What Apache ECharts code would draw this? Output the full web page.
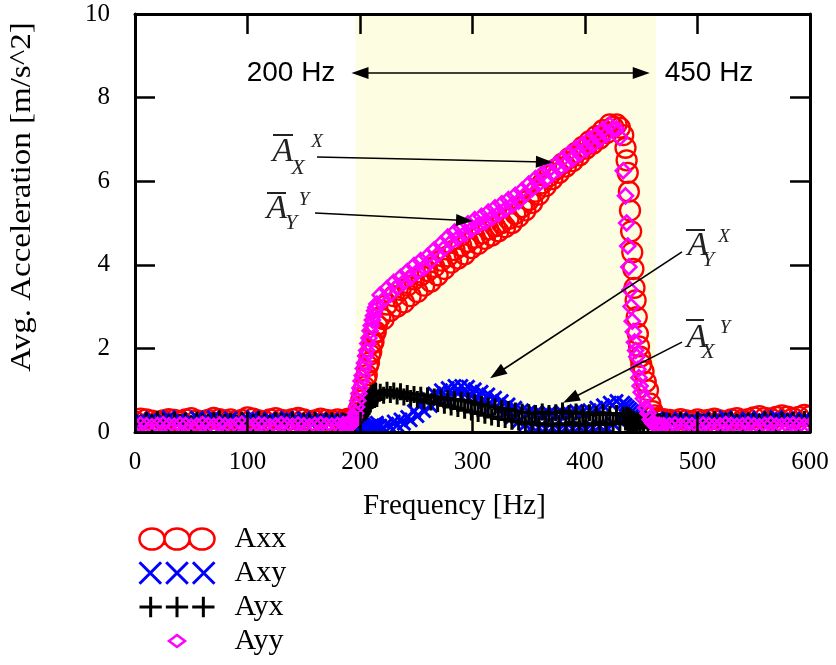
<!DOCTYPE html>
<html>
<head>
<meta charset="utf-8">
<script src="https://cdn.jsdelivr.net/npm/echarts@6/dist/echarts.min.js"></script>
<style>
html,body{margin:0;padding:0;background:#fff}
#chart{width:836px;height:665px}
</style>
</head>
<body>
<div id="chart"></div>
<script>
// Frequency grid [Hz] shared by the four averaged acceleration curves
const freq = [
  // 0-185 Hz
  0,5,10,15,20,25,30,35,40,45,50,55,60,65,70,75,80,85,90,95,
  100,105,110,115,120,125,130,135,140,145,150,155,160,165,170,175,180,185,
  // 188-215 Hz
  188,189,190,191,192,193,194,195,196,197,
  198,199,200,201,202,203,204,205,206,207,
  208,209,210,211,212,213,214,215,
  // 218-434 Hz
  218,221,224,227,230,233,236,239,242,245,
  248,251,254,257,260,263,266,269,272,275,
  278,281,284,287,290,293,296,299,302,305,
  308,311,314,317,320,323,326,329,332,335,
  338,341,344,347,350,353,356,359,362,365,
  368,371,374,377,380,383,386,389,392,395,
  398,401,404,407,410,413,416,419,422,425,
  428,431,434,
  // 436-450 Hz
  436,437,438,439,440,441,442,443,444,445,446,447,448,449,450,
  // 452-470 Hz
  452,454,456,458,460,462,464,466,468,470,
  // 475-600 Hz
  475,480,485,490,495,500,505,510,515,520,525,530,535,540,545,550,555,560,565,570,575,580,585,590,595,600
];

// Axx [m/s^2]
const axx = [
  0.25,0.32,0.30,0.27,0.24,0.28,0.31,0.29,0.26,0.30,
  0.33,0.28,0.25,0.29,0.34,0.31,0.27,0.30,0.26,0.29,
  0.35,0.32,0.28,0.26,0.30,0.33,0.29,0.27,0.31,0.34,
  0.30,0.26,0.28,0.32,0.29,0.27,0.30,0.28,
  0.30,0.28,0.32,0.29,0.31,0.30,0.33,0.32,0.34,0.38,
  0.45,0.55,0.60,0.75,0.82,1.00,1.08,1.28,1.36,1.58,
  1.66,1.85,1.92,2.12,2.16,2.36,2.40,2.56,
  2.75,2.70,3.05,2.90,3.25,3.00,3.40,3.10,3.50,3.25,
  3.65,3.35,3.75,3.50,3.85,3.60,3.95,3.75,4.10,3.90,
  4.20,4.05,4.35,4.15,4.45,4.25,4.55,4.40,4.65,4.50,
  4.75,4.62,4.85,4.70,4.92,4.80,5.00,4.90,5.10,5.00,
  5.22,5.15,5.38,5.30,5.55,5.48,5.75,5.68,5.95,5.88,
  6.12,6.05,6.28,6.20,6.42,6.35,6.55,6.48,6.68,6.62,
  6.82,6.78,6.95,6.90,7.08,7.02,7.22,7.15,7.36,7.30,
  7.36,7.28,7.10,
  6.80,6.50,6.20,5.75,5.30,4.80,4.30,3.90,3.45,3.15,2.75,2.35,2.05,1.80,1.62,
  1.45,1.20,1.00,0.68,0.50,0.40,0.33,0.30,0.28,0.31,
  0.29,0.27,0.31,0.28,0.26,0.30,0.27,0.29,0.32,0.28,0.26,0.30,0.33,
  0.29,0.31,0.35,0.38,0.34,0.32,0.36,0.40,0.37,0.33,0.36,0.41,0.38
];

// Axy [m/s^2]
const axy = [
  0.22,0.30,0.26,0.33,0.24,0.29,0.35,0.27,0.31,0.23,
  0.28,0.34,0.26,0.30,0.36,0.25,0.29,0.33,0.27,0.24,
  0.31,0.35,0.28,0.25,0.32,0.27,0.30,0.34,0.26,0.29,
  0.33,0.25,0.28,0.31,0.27,0.30,0.26,0.24,
  0.25,0.30,0.22,0.27,0.20,0.24,0.16,0.20,0.12,0.15,
  0.08,0.12,0.05,0.09,0.04,0.08,0.05,0.10,0.06,0.12,
  0.07,0.14,0.08,0.16,0.10,0.18,0.12,0.22,
  0.15,0.08,0.20,0.12,0.25,0.16,0.30,0.20,0.36,0.28,
  0.50,0.38,0.65,0.50,0.80,0.62,0.92,0.75,1.00,0.82,
  1.05,0.90,1.10,0.92,1.10,0.90,1.08,0.86,1.02,0.80,
  0.96,0.72,0.90,0.64,0.82,0.54,0.74,0.45,0.66,0.35,
  0.58,0.25,0.52,0.18,0.48,0.12,0.45,0.10,0.42,0.08,
  0.45,0.10,0.42,0.06,0.46,0.10,0.44,0.08,0.50,0.12,
  0.48,0.06,0.52,0.10,0.58,0.14,0.64,0.12,0.70,0.20,
  0.74,0.30,0.70,
  0.65,0.35,0.60,0.30,0.55,0.28,0.50,0.25,0.45,0.30,0.40,0.28,0.36,0.30,0.33,
  0.28,0.32,0.26,0.30,0.25,0.29,0.33,0.27,0.31,0.26,
  0.29,0.25,0.32,0.27,0.30,0.24,0.33,0.28,0.26,0.31,0.35,0.27,0.30,
  0.25,0.32,0.29,0.34,0.27,0.31,0.36,0.28,0.33,0.30,0.26,0.32,0.29
];

// Ayx [m/s^2]
const ayx = [
  0.24,0.20,0.27,0.22,0.30,0.25,0.21,0.28,0.23,0.26,
  0.20,0.29,0.24,0.22,0.27,0.31,0.23,0.25,0.21,0.28,
  0.26,0.22,0.30,0.24,0.20,0.27,0.25,0.23,0.29,0.21,
  0.26,0.24,0.28,0.22,0.25,0.27,0.23,0.26,
  0.24,0.20,0.27,0.22,0.25,0.21,0.26,0.23,0.28,0.30,
  0.30,0.33,0.36,0.40,0.45,0.50,0.58,0.65,0.72,0.66,
  0.85,0.72,0.92,0.76,0.95,0.78,0.98,0.80,
  0.95,0.88,1.00,0.90,0.98,0.86,0.96,0.84,0.92,0.80,
  0.90,0.78,0.88,0.74,0.86,0.72,0.84,0.68,0.82,0.64,
  0.80,0.60,0.78,0.56,0.76,0.52,0.74,0.48,0.70,0.44,
  0.66,0.40,0.62,0.36,0.60,0.32,0.56,0.30,0.54,0.26,
  0.50,0.24,0.48,0.20,0.46,0.22,0.44,0.18,0.48,0.20,
  0.44,0.16,0.46,0.20,0.50,0.18,0.44,0.22,0.48,0.16,
  0.44,0.20,0.46,0.18,0.42,0.22,0.46,0.18,0.42,0.20,
  0.44,0.22,0.40,
  0.24,0.40,0.20,0.38,0.22,0.34,0.18,0.30,0.20,0.26,0.22,0.28,0.24,0.22,0.26,
  0.23,0.27,0.21,0.25,0.28,0.22,0.26,0.24,0.20,0.27,
  0.25,0.22,0.28,0.24,0.21,0.27,0.23,0.26,0.30,0.22,0.25,0.28,0.24,
  0.21,0.27,0.25,0.23,0.29,0.26,0.22,0.28,0.24,0.27,0.23,0.30,0.26
];

// Ayy [m/s^2]
const ayy = [
  0.14,0.17,0.15,0.13,0.16,0.18,0.15,0.14,0.17,0.16,
  0.13,0.15,0.18,0.16,0.14,0.17,0.15,0.13,0.16,0.19,
  0.15,0.14,0.17,0.16,0.13,0.15,0.18,0.16,0.14,0.17,
  0.15,0.13,0.16,0.18,0.15,0.14,0.16,0.18,
  0.17,0.15,0.18,0.16,0.20,0.22,0.28,0.35,0.45,0.60,
  0.75,0.92,1.05,1.22,1.35,1.52,1.65,1.82,1.95,2.12,
  2.25,2.42,2.55,2.68,2.78,2.90,2.98,3.06,
  3.28,3.16,3.43,3.30,3.58,3.46,3.70,3.58,3.84,3.70,
  3.98,3.83,4.10,3.93,4.20,4.10,4.36,4.24,4.50,4.40,
  4.66,4.54,4.78,4.64,4.88,4.74,4.98,4.84,5.08,4.94,
  5.16,5.02,5.26,5.12,5.36,5.22,5.46,5.32,5.56,5.42,
  5.66,5.52,5.78,5.68,5.93,5.82,6.06,5.94,6.18,6.04,
  6.28,6.18,6.40,6.30,6.53,6.42,6.66,6.54,6.78,6.66,
  6.88,6.78,7.00,6.88,7.10,7.00,7.23,7.12,7.34,7.24,
  7.25,7.05,6.25,
  5.65,5.00,4.45,3.95,3.40,3.00,2.65,2.40,2.15,1.95,1.80,1.50,1.30,1.10,0.95,
  0.80,0.58,0.45,0.30,0.22,0.17,0.15,0.16,0.14,0.15,
  0.15,0.17,0.14,0.16,0.15,0.13,0.17,0.16,0.14,0.15,0.18,0.16,0.14,
  0.15,0.17,0.15,0.13,0.16,0.18,0.15,0.14,0.16,0.17,0.15,0.14,0.16
];

const seriesNames = ['Axx', 'Axy', 'Ayx', 'Ayy'];
const xTicks = { min: 0, max: 600, step: 100 };
const yTicks = { min: 0, max: 10, step: 2 };

const pairs = ys => freq.map((f, i) => [f, ys[i]]);

// marker shapes
const CROSS = 'path://M0,2.2L2.2,0L8,5.8L13.8,0L16,2.2L10.2,8L16,13.8L13.8,16L8,10.2L2.2,16L0,13.8L5.8,8Z';
const PLUS = 'path://M6.6,0H9.4V6.6H16V9.4H9.4V16H6.6V9.4H0V6.6H6.6Z';

// legend icons: three markers in a row, or one centred marker
const ICON_CIRCLES = 'path://M0,10.5A12.5,10.5,0,1,1,25,10.5A12.5,10.5,0,1,1,0,10.5ZM25,10.5A12.5,10.5,0,1,1,50,10.5A12.5,10.5,0,1,1,25,10.5ZM50,10.5A12.5,10.5,0,1,1,75,10.5A12.5,10.5,0,1,1,50,10.5Z';
const ICON_CROSSES = 'path://M1,0L22,21M22,0L1,21M27,0L48,21M48,0L27,21M53,0L74,21M74,0L53,21';
const ICON_PLUSES = 'path://M0,10L22,10M11,0L11,20M26,10L48,10M37,0L37,20M52,10L74,10M63,0L63,20';
const ICON_DIAMOND = 'path://M0,0M75,22M37.5,5L45.5,11L37.5,17L29.5,11Z';

const serif = '"Liberation Serif", "Times New Roman", serif';
const sans = '"Liberation Sans", Arial, sans-serif';

// plot frame in pixels
const plot = { left: 135, top: 14, width: 675, height: 418 };

const chart = echarts.init(document.getElementById('chart'), null, { renderer: 'canvas' });

const axisCommon = {
  type: 'value',
  z: 4,
  axisLine: { show: true, onZero: false, lineStyle: { color: '#000', width: 3 } },
  axisTick: { show: true, inside: true, length: 20, lineStyle: { color: '#000', width: 2.5 } },
  splitLine: { show: false },
  minorTick: { show: false }
};

// overlined symbol labels: A, subscript, superscript
const symbolLabels = [
  { ax: 283, ay: 152, bar: [273, 293, 135], sub: 'X', sx: 298, sy: 168, sup: 'X', px: 317, py: 142 },
  { ax: 277, ay: 209, bar: [267, 286, 193], sub: 'Y', sx: 291, sy: 223, sup: 'Y', px: 304, py: 200 },
  { ax: 698, ay: 246, bar: [686, 705, 230], sub: 'Y', sx: 708, sy: 260, sup: 'X', px: 724, py: 237 },
  { ax: 697, ay: 338, bar: [686, 704, 320], sub: 'X', sx: 708, sy: 352, sup: 'Y', px: 725, py: 328 }
];
const labelGraphics = [];
symbolLabels.forEach(l => {
  labelGraphics.push({ type: 'text', x: l.ax, y: l.ay, z: 20,
    style: { text: 'A', font: 'italic 34px ' + serif, fill: '#222', textAlign: 'center', textVerticalAlign: 'middle' } });
  labelGraphics.push({ type: 'line', z: 20,
    shape: { x1: l.bar[0], y1: l.bar[2], x2: l.bar[1], y2: l.bar[2] }, style: { stroke: '#222', lineWidth: 2 } });
  labelGraphics.push({ type: 'text', x: l.sx, y: l.sy, z: 20,
    style: { text: l.sub, font: 'italic 22px ' + serif, fill: '#222', textAlign: 'center', textVerticalAlign: 'middle' } });
  labelGraphics.push({ type: 'text', x: l.px, y: l.py, z: 20,
    style: { text: l.sup, font: 'italic 19px ' + serif, fill: '#222', textAlign: 'center', textVerticalAlign: 'middle' } });
});

// white masks so markers stop at the plot frame
const pr = plot.left + plot.width, pb = plot.top + plot.height;
const frameMasks = [
  { type: 'rect', z: 3, silent: true, shape: { x: plot.left - 16, y: 0, width: 16, height: pb + 14 }, style: { fill: '#fff' } },
  { type: 'rect', z: 3, silent: true, shape: { x: pr, y: 0, width: 836 - pr, height: pb + 14 }, style: { fill: '#fff' } },
  { type: 'rect', z: 3, silent: true, shape: { x: plot.left - 16, y: pb, width: 836 - plot.left + 16, height: 12 }, style: { fill: '#fff' } }
];

const option = {
  animation: false,
  backgroundColor: '#fff',
  grid: { left: plot.left, top: plot.top, width: plot.width, height: plot.height, containLabel: false, outerBoundsMode: 'none' },
  xAxis: [
    Object.assign({}, axisCommon, {
      position: 'bottom', min: xTicks.min, max: xTicks.max, interval: xTicks.step,
      axisLabel: { show: true, margin: 18, color: '#000', fontFamily: serif, fontSize: 25 },
      name: 'Frequency [Hz]', nameLocation: 'middle', nameGap: 60,
      nameTextStyle: { color: '#000', fontFamily: serif, fontSize: 29, padding: [0, 36, 0, 0] }
    }),
    Object.assign({}, axisCommon, {
      position: 'top', min: xTicks.min, max: xTicks.max, interval: xTicks.step,
      axisLabel: { show: false }
    })
  ],
  yAxis: [
    Object.assign({}, axisCommon, {
      position: 'left', min: yTicks.min, max: yTicks.max, interval: yTicks.step,
      axisLabel: { show: true, margin: 25, color: '#000', fontFamily: serif, fontSize: 25 }
    }),
    Object.assign({}, axisCommon, {
      position: 'right', min: yTicks.min, max: yTicks.max, interval: yTicks.step,
      axisLabel: { show: false }
    })
  ],
  legend: {
    show: true,
    orient: 'vertical',
    left: 133,
    top: 519,
    itemWidth: 75,
    itemHeight: 22,
    itemGap: 4,
    selectedMode: false,
    symbolKeepAspect: true,
    textStyle: { color: '#000', fontFamily: serif, fontSize: 30, padding: [0, 0, 0, 15] },
    data: [
      { name: seriesNames[0], icon: ICON_CIRCLES, itemStyle: { color: 'rgba(0,0,0,0)', borderColor: '#ff0000', borderWidth: 2.5, opacity: 1 } },
      { name: seriesNames[1], icon: ICON_CROSSES, itemStyle: { color: 'rgba(0,0,0,0)', borderColor: '#0000ff', borderWidth: 3, opacity: 1 } },
      { name: seriesNames[2], icon: ICON_PLUSES, itemStyle: { color: 'rgba(0,0,0,0)', borderColor: '#000000', borderWidth: 3, opacity: 1 } },
      { name: seriesNames[3], icon: ICON_DIAMOND, itemStyle: { color: 'rgba(0,0,0,0)', borderColor: '#ff00ff', borderWidth: 2.5, opacity: 1 } }
    ]
  },
  graphic: frameMasks.concat([
    { type: 'text', x: 22, y: 197, rotation: Math.PI / 2, scaleX: 1.1, z: 20,
      style: { text: 'Avg. Acceleration [m/s^2]', font: '30px ' + serif, fill: '#000', textAlign: 'center', textVerticalAlign: 'middle' } },
    { type: 'text', x: 291, y: 73, z: 20,
      style: { text: '200 Hz', font: '28px ' + sans, fill: '#000', textAlign: 'center', textVerticalAlign: 'middle' } },
    { type: 'text', x: 709, y: 73, z: 20,
      style: { text: '450 Hz', font: '28px ' + sans, fill: '#000', textAlign: 'center', textVerticalAlign: 'middle' } }
  ]).concat(labelGraphics),
  series: [
    {
      // excitation band
      type: 'line', name: 'band', data: [], z: 1, silent: true,
      markArea: {
        silent: true,
        itemStyle: { color: '#fdfde1' },
        data: [[{ xAxis: 196 }, { xAxis: 463 }]]
      }
    },
    {
      name: seriesNames[0], type: 'scatter', z: 2, silent: true,
      symbol: 'circle', symbolSize: 20,
      itemStyle: { color: 'rgba(0,0,0,0)', borderColor: '#ff0000', borderWidth: 2.3, opacity: 1 },
      data: pairs(axx)
    },
    {
      name: seriesNames[1], type: 'scatter', z: 2, silent: true,
      symbol: CROSS, symbolSize: 15,
      itemStyle: { color: '#0000ff', opacity: 1 },
      data: pairs(axy)
    },
    {
      name: seriesNames[2], type: 'scatter', z: 2, silent: true,
      symbol: PLUS, symbolSize: 17,
      itemStyle: { color: '#000000', opacity: 1 },
      data: pairs(ayx)
    },
    {
      name: seriesNames[3], type: 'scatter', z: 2, silent: true,
      symbol: 'diamond', symbolSize: 15,
      itemStyle: { color: 'rgba(0,0,0,0)', borderColor: '#ff00ff', borderWidth: 2.6, opacity: 1 },
      data: pairs(ayy)
    },
    {
      // pointer arrows to the four curves and the band extent
      type: 'line', name: 'arrows', data: [], z: 6, silent: true,
      markLine: {
        silent: true,
        symbol: ['none', 'triangle'],
        symbolSize: [12, 17],
        label: { show: false },
        lineStyle: { color: '#000', width: 1.6, type: 'solid', opacity: 1 },
        emphasis: { disabled: true },
        data: [
          [{ coord: [161.8, 6.58] }, { coord: [363.9, 6.46] }],
          [{ coord: [160.0, 5.24] }, { coord: [292.9, 5.06] }],
          [{ coord: [486.2, 4.31] }, { coord: [321.9, 1.40] }],
          [{ coord: [486.2, 2.15] }, { coord: [387.2, 0.79] }],
          [{ coord: [200, 8.59], symbol: 'triangle' }, { coord: [450, 8.59], symbol: 'triangle' }]
        ]
      }
    }
  ]
};

chart.setOption(option);
</script>
</body>
</html>
